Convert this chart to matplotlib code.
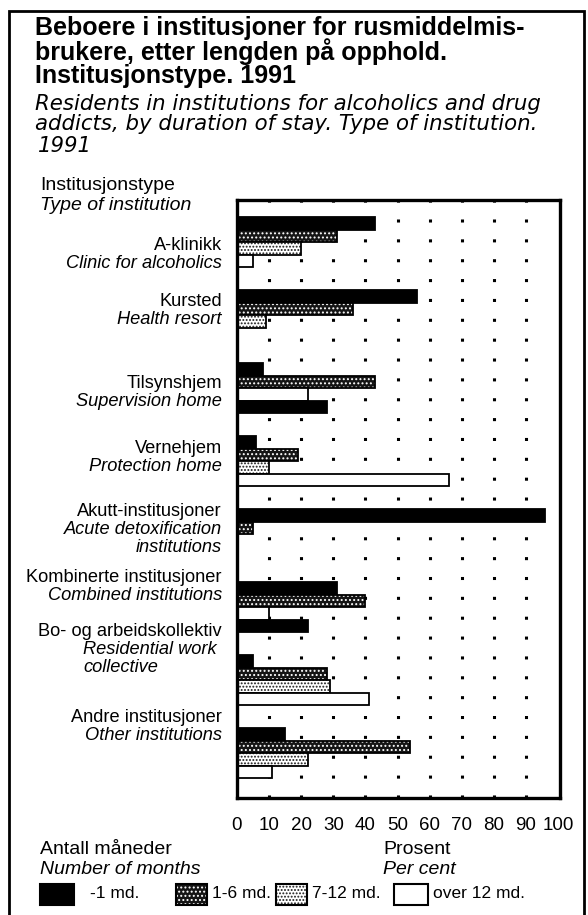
import matplotlib
matplotlib.use("Agg")
import matplotlib.pyplot as plt
from matplotlib.patches import Rectangle

plt.rcParams['font.family'] = ['Liberation Sans', 'DejaVu Sans']
plt.rcParams['hatch.linewidth'] = 0.9

# data (prosent)
institusjoner = ["A-klinikk", "Kursted", "Tilsynshjem", "Vernehjem",
                 "Akutt-institusjoner", "Kombinerte institusjoner",
                 "Bo- og arbeidskollektiv", "Andre institusjoner"]
institutions = ["Clinic for alcoholics", "Health resort", "Supervision home",
                "Protection home", "Acute detoxification\ninstitutions",
                "Combined institutions", "Residential work\ncollective",
                "Other institutions"]
serier = ["-1 md.", "1-6 md.", "7-12 md.", "over 12 md."]
under_1 = [43, 56, 8, 6, 96, 31, 5, 15]
mnd_1_6 = [31, 36, 43, 19, 5, 40, 28, 54]
mnd_7_12 = [20, 9, 22, 10, 0, 10, 29, 22]
over_12 = [5, 0, 28, 66, 0, 22, 41, 11]
ticks = [0, 10, 20, 30, 40, 50, 60, 70, 80, 90, 100]

W, H = 588, 915
fig = plt.figure(figsize=(W / 100, H / 100), dpi=100)
renderer = fig.canvas.get_renderer()


def px(x, y):
    return x / W, 1 - y / H


def tilpass(t, bredde, maks=None):
    # skaler skriftstørrelsen slik at teksten får omtrent samme bredde som i originalen
    b = t.get_window_extent(renderer).width
    fs = t.get_fontsize() * bredde / b
    if maks is not None:
        fs = min(fs, maks)
    t.set_fontsize(fs)
    return fs


# fyll som i trykket: svart, mørk raster, lys raster, hvit
stil = {
    "svart": dict(face="black", hatch=None, hc="black"),
    "mork": dict(face="#151515", hatch="....", hc="white"),
    "lys": dict(face="white", hatch=".....", hc="#1a1a1a"),
    "hvit": dict(face="white", hatch=None, hc="white"),
}
serie_stil = ["svart", "mork", "lys", "hvit"]
# trykkfeil i originalen: noen stolper er trykt med annet fyll
trykt = {(2, 2): "hvit", (2, 3): "svart", (5, 2): "hvit", (5, 3): "svart"}


def tegn(ax, y, v, h, navn):
    s = stil[navn]
    ax.barh(y, v, height=h, align="edge", color=s["face"], edgecolor=s["hc"],
            hatch=s["hatch"], linewidth=0)
    ax.barh(y, v, height=h, align="edge", facecolor="none",
            edgecolor="black", linewidth=1.3)


ax = fig.add_axes([237 / W, 1 - 798 / H, (560 - 237) / W, (798 - 200) / H])
h = 12.5 / 73
verdier = [under_1, mnd_1_6, mnd_7_12, over_12]
for j, serie in enumerate(verdier):
    for i, v in enumerate(serie):
        if v <= 0:
            continue
        navn = trykt.get((i, j), serie_stil[j])
        tegn(ax, i + j * h, v, h, navn)

ax.set_xlim(0, 100.6)
ax.set_ylim((798 - 217) / 73, -17 / 73)
ax.set_xticks(ticks)
ax.set_xticklabels([str(t) for t in ticks], fontsize=13.5)
ax.tick_params(axis="x", length=0, pad=14)
ax.set_yticks([])
for t in ticks[1:-1]:
    ax.axvline(t, color="black", linestyle=(0, (1, 5.5)), linewidth=2.2, zorder=0)
for sp in ax.spines.values():
    sp.set_linewidth(2.4)

# ramme rundt figuren
fig.patches.append(Rectangle(px(9, 940), (584 - 9) / W, (940 - 11) / H,
                             transform=fig.transFigure, fill=False,
                             edgecolor="black", linewidth=2))

# titler
tittel = ["Beboere i institusjoner for rusmiddelmis-",
          "brukere, etter lengden på opphold.",
          "Institusjonstype. 1991"]
tt = [fig.text(*px(35, 28 + i * 24), linje, fontsize=15, fontweight="bold",
               va="center", ha="left") for i, linje in enumerate(tittel)]
fs = tilpass(tt[0], 546 - 35, maks=18)
for t in tt[1:]:
    t.set_fontsize(fs)

undertittel = ["Residents in institutions for alcoholics and drug",
               "addicts, by duration of stay. Type of institution."]
it = [fig.text(*px(35, 104 + i * 20.5), linje, fontsize=14, style="italic",
               family=["DejaVu Sans"], va="center")
      for i, linje in enumerate(undertittel)]
it.append(fig.text(*px(38, 146), "1991", fontsize=14, style="italic",
                   family=["DejaVu Sans"], va="center"))
fs = tilpass(it[0], 581 - 35, maks=15.3)
for t in it[1:]:
    t.set_fontsize(fs)

hd = [fig.text(*px(40, 186), "Institusjonstype", fontsize=12, va="center"),
      fig.text(*px(40, 205), "Type of institution", fontsize=12,
               style="italic", va="center")]
fs = tilpass(hd[0], 186 - 40, maks=14)
hd[1].set_fontsize(fs)

# kategorietiketter
no_y = [246, 301, 383, 448, 512, 578, 632, 717]
etiketter = []
for i in range(len(institusjoner)):
    etiketter.append(fig.text(*px(222, no_y[i]), institusjoner[i], fontsize=11.5,
                              ha="right", va="center"))
    en = institutions[i].split("\n")
    for k, linje in enumerate(en):
        y = no_y[i] + 18 + k * 18
        if i == 6:
            etiketter.append(fig.text(*px(83, y), linje, fontsize=11.5,
                                      style="italic", ha="left", va="center"))
        else:
            etiketter.append(fig.text(*px(222, y), linje, fontsize=11.5,
                                      style="italic", ha="right", va="center"))
fs = tilpass(etiketter[[t.get_text() for t in etiketter].index(
    "Kombinerte institusjoner")], 222 - 25)
for t in etiketter:
    t.set_fontsize(fs)

akse = [fig.text(*px(40, 850), "Antall måneder", fontsize=13, va="center"),
        fig.text(*px(40, 870), "Number of months", fontsize=13, style="italic",
                 va="center"),
        fig.text(*px(383, 850), "Prosent", fontsize=13, va="center"),
        fig.text(*px(383, 870), "Per cent", fontsize=13, style="italic",
                 va="center")]
fs = tilpass(akse[0], 176 - 40, maks=14)
for t in akse[1:]:
    t.set_fontsize(fs)

# tegnforklaring
leg_x = [40, 176, 276, 394]
for j, navn in enumerate(serie_stil):
    x0 = leg_x[j]
    bredde = 34 if j in (0, 3) else 31
    s = stil[navn]
    lx, ly = px(x0, 905)
    fig.patches.append(Rectangle((lx, ly), bredde / W, 21 / H,
                                 transform=fig.transFigure, facecolor=s["face"],
                                 edgecolor=s["hc"], hatch=s["hatch"],
                                 linewidth=0))
    fig.patches.append(Rectangle((lx, ly), bredde / W, 21 / H,
                                 transform=fig.transFigure, fill=False,
                                 edgecolor="black", linewidth=1.5))
    tx = x0 + bredde + (16 if j == 0 else 5)
    fig.text(*px(tx, 894), serier[j], fontsize=12.5, va="center")

fig.savefig("out.png", dpi=100)
